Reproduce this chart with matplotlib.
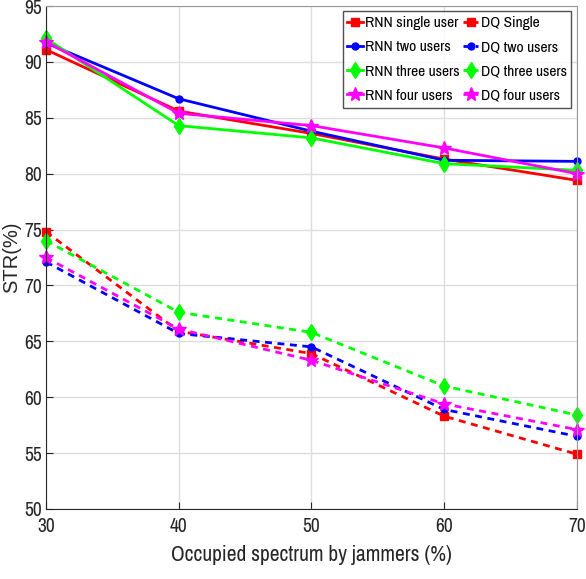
import matplotlib
matplotlib.use("Agg")
import matplotlib.pyplot as plt
from matplotlib import font_manager

x = [30, 40, 50, 60, 70]

rnn_single = [91.1, 85.6, 83.6, 81.3, 79.4]
rnn_two = [91.7, 86.7, 83.8, 81.2, 81.1]
rnn_three = [92.1, 84.3, 83.2, 80.9, 80.3]
rnn_four = [91.8, 85.4, 84.3, 82.3, 80.0]

dq_single = [74.8, 65.9, 63.9, 58.3, 54.9]
dq_two = [72.1, 65.7, 64.5, 58.9, 56.5]
dq_three = [74.0, 67.6, 65.8, 61.0, 58.4]
dq_four = [72.5, 66.1, 63.3, 59.4, 57.1]

labels = ["RNN single user", "DQ Single", "RNN two users", "DQ two users",
          "RNN three users", "DQ three users", "RNN four users", "DQ four users"]

names = {f.name for f in font_manager.fontManager.ttflist}
fam = 'Liberation Sans'
for cand in ['Nimbus Sans Narrow', 'Liberation Sans Narrow', 'Arial Narrow',
             'Archivo Narrow', 'PT Sans Narrow', 'Roboto Condensed']:
    if cand in names:
        fam = cand
        break
plt.rcParams['font.family'] = [fam, 'DejaVu Sans']

fig = plt.figure(figsize=(5.86, 5.79), dpi=100)
ax = fig.add_axes([0.0785, 0.121, 0.906, 0.8686])

lw = 2.0
series = [
    (rnn_single, 'red', 's', '-', labels[0]),
    (dq_single, 'red', 's', '--', labels[1]),
    (rnn_two, 'blue', 'o', '-', labels[2]),
    (dq_two, 'blue', 'o', '--', labels[3]),
    (rnn_three, '#00ff00', 'd', '-', labels[4]),
    (dq_three, '#00ff00', 'd', '--', labels[5]),
    (rnn_four, 'magenta', '*', '-', labels[6]),
    (dq_four, 'magenta', '*', '--', labels[7]),
]
handles = []
for vals, c, m, ls, lab in series:
    ms = {'s': 6, 'o': 5, 'd': 8, '*': 10}[m]
    h, = ax.plot(x, vals, color=c, marker=m, linestyle=ls, linewidth=lw,
                 markersize=ms, label=lab, clip_on=False)
    if ls == '--':
        h.set_dashes((2.5, 2.0))
    handles.append(h)

ax.set_xlim(30, 70)
ax.set_ylim(50, 95)
ax.set_xticks(x)
ax.set_yticks(range(50, 96, 5))
ax.grid(True, color='#dddddd', linewidth=1)
ax.tick_params(direction='in', labelsize=14, length=5, colors='#262626')
ax.tick_params(axis='y', pad=3)
ax.tick_params(axis='x', pad=6)
for s in ['top', 'right']:
    ax.spines[s].set_color('#999999')
for s in ['left', 'bottom']:
    ax.spines[s].set_color('#262626')
ax.set_xlabel("Occupied spectrum by jammers (%)", fontsize=15.5, color='#262626', labelpad=6)
ax.set_ylabel("STR(%)", fontsize=14.5, color='#262626', family=['Liberation Sans', 'DejaVu Sans'])
ax.yaxis.set_label_coords(-0.046, 0.5)

# row-major ordering like the reference: RNN in column 1, DQ in column 2
order = [0, 2, 4, 6, 1, 3, 5, 7]
leg = ax.legend(handles=[handles[i] for i in order], ncol=2, loc='upper right',
                fontsize=11.2, frameon=True, fancybox=False, edgecolor='#262626',
                handlelength=1.0, handletextpad=0.15, columnspacing=0.2,
                borderpad=0.3, labelspacing=0.66, borderaxespad=0.35)
leg.get_frame().set_linewidth(1.0)

fig.savefig("out.png", dpi=100)
